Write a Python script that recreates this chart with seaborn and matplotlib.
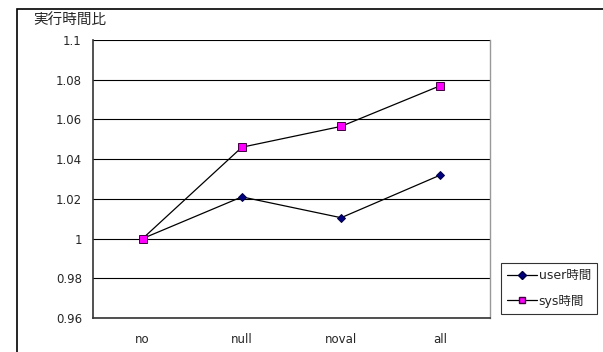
import matplotlib
matplotlib.use("Agg")
import matplotlib.pyplot as plt
import matplotlib.patches as mpatches
from matplotlib.ticker import FixedLocator, FuncFormatter
import seaborn as sns
import pandas as pd

categories = ['no', 'null', 'noval', 'all']
user_time = [1.000, 1.021, 1.0105, 1.032]
sys_time = [1.000, 1.046, 1.0565, 1.077]
series_names = ['user時間', 'sys時間']
y_ticks = [0.96, 0.98, 1.0, 1.02, 1.04, 1.06, 1.08, 1.1]

sns.set_style("white")
plt.rcParams['font.family'] = ['DejaVu Sans', 'Noto Sans CJK JP']

df = pd.DataFrame({
    'x': list(range(len(categories))) * 2,
    'value': user_time + sys_time,
    'series': [series_names[0]] * 4 + [series_names[1]] * 4,
})

fig = plt.figure(figsize=(6.03, 3.52), dpi=100)
ax = fig.add_axes([93 / 603, 1 - 318 / 352, 397 / 603, 278 / 352])

# outer chart frame (right and bottom edges fall outside the image)
fig.patches.append(mpatches.Rectangle((17 / 603, -0.05), 1.0, 1 - 8.5 / 352 + 0.05,
                                      transform=fig.transFigure, fill=False,
                                      edgecolor='black', linewidth=1.2))

# grid lines
for y in y_ticks:
    ax.axhline(y, color='black', linewidth=0.8, zorder=0)

sns.lineplot(data=df, x='x', y='value', hue='series', style='series',
             palette={series_names[0]: '#000080', series_names[1]: '#FF00FF'},
             markers={series_names[0]: 'D', series_names[1]: 's'},
             dashes=False, ax=ax, legend=False, zorder=3)

# line colour is black, markers coloured
for line, mc, ec, ms in zip(ax.lines[-2:], ['#000080', '#FF00FF'],
                            ['#000040', '#400040'], [4.5, 6]):
    line.set_color('black')
    line.set_linewidth(0.9)
    line.set_markerfacecolor(mc)
    line.set_markeredgecolor(ec)
    line.set_markeredgewidth(0.7)
    line.set_markersize(ms)

ax.set_xlim(-0.5, 3.5)
ax.set_ylim(0.96, 1.1)
ax.yaxis.set_major_locator(FixedLocator(y_ticks))
ax.yaxis.set_major_formatter(FuncFormatter(lambda v, _: f'{v:.2f}'.rstrip('0').rstrip('.')))
ax.set_xticks(range(len(categories)))
ax.set_xticklabels(categories)
ax.xaxis.set_minor_locator(FixedLocator([0.5, 1.5, 2.5]))
ax.tick_params(axis='x', which='major', length=0, pad=11, labelsize=8.5)
ax.tick_params(axis='x', which='minor', direction='in', length=4, width=0.8, color='black')
ax.tick_params(axis='y', which='major', direction='out', length=3, width=0.8, pad=5, labelsize=8.5)
ax.set_xlabel('')
ax.set_ylabel('')

for side in ['left', 'bottom']:
    ax.spines[side].set_color('#333333')
    ax.spines[side].set_linewidth(1.2)
ax.spines['top'].set_visible(False)
ax.spines['right'].set_color('#999999')
ax.spines['right'].set_linewidth(1.0)

fig.text(33 / 603, 1 - 20 / 352, '実行時間比', fontsize=10.5, va='center', ha='left',
         family=['Noto Sans CJK JP', 'DejaVu Sans'])

handles = [
    plt.Line2D([], [], color='black', linewidth=0.9, marker='D', markersize=4,
               markerfacecolor='#000080', markeredgecolor='#000040'),
    plt.Line2D([], [], color='black', linewidth=0.9, marker='s', markersize=5,
               markerfacecolor='#FF00FF', markeredgecolor='#400040'),
]
leg = fig.legend(handles, series_names, loc='upper left',
                 bbox_to_anchor=(501 / 603, 1 - 263 / 352), fontsize=9,
                 frameon=True, fancybox=False, borderpad=0.5, handlelength=2.4,
                 handletextpad=0.1, labelspacing=1.0, borderaxespad=0)
leg.get_frame().set_edgecolor('black')
leg.get_frame().set_linewidth(0.8)

fig.savefig('out.png', dpi=100)
